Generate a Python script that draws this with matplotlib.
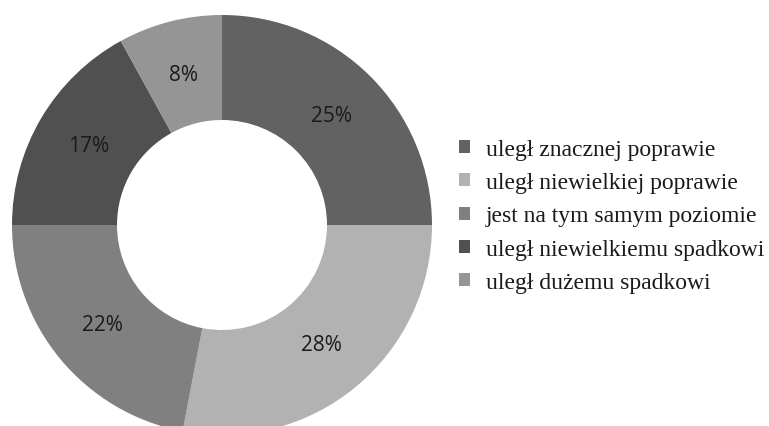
import matplotlib.pyplot as plt
from matplotlib.patches import Patch

labels = [
    "uległ znacznej poprawie",
    "uległ niewielkiej poprawie",
    "jest na tym samym poziomie",
    "uległ niewielkiemu spadkowi",
    "uległ dużemu spadkowi",
]
shares = [25, 28, 22, 17, 8]
colors = ["#626262", "#b2b2b2", "#808080", "#505050", "#959595"]

fig = plt.figure(figsize=(7.69, 4.27), dpi=100)
# square axes holding the donut, slightly clipped at the bottom edge
ax = fig.add_axes([12 / 769, -9 / 427, 420 / 769, 420 / 427])

wedges, texts, autotexts = ax.pie(
    shares,
    colors=colors,
    startangle=90,
    counterclock=False,
    radius=1.0,
    autopct=lambda p: f"{p:.0f}%",
    pctdistance=0.74,
    wedgeprops=dict(width=0.5, linewidth=0),
    textprops=dict(fontsize=15, family="Open Sans", color="#1a1a1a"),
)
ax.set_xlim(-1, 1)
ax.set_ylim(-1, 1)
ax.set_aspect("equal")
ax.axis("off")

handles = [Patch(facecolor=c, edgecolor="none") for c in colors]
fig.legend(
    handles,
    labels,
    loc="center left",
    bbox_to_anchor=(459 / 769, 1 - 217 / 427),
    frameon=False,
    borderpad=0,
    borderaxespad=0,
    prop=dict(family="Liberation Serif", size=17),
    handlelength=0.47,
    handleheight=0.47,
    handletextpad=0.68,
    labelspacing=0.52,
    labelcolor="#1a1a1a",
)

fig.savefig("out.png", dpi=100)
